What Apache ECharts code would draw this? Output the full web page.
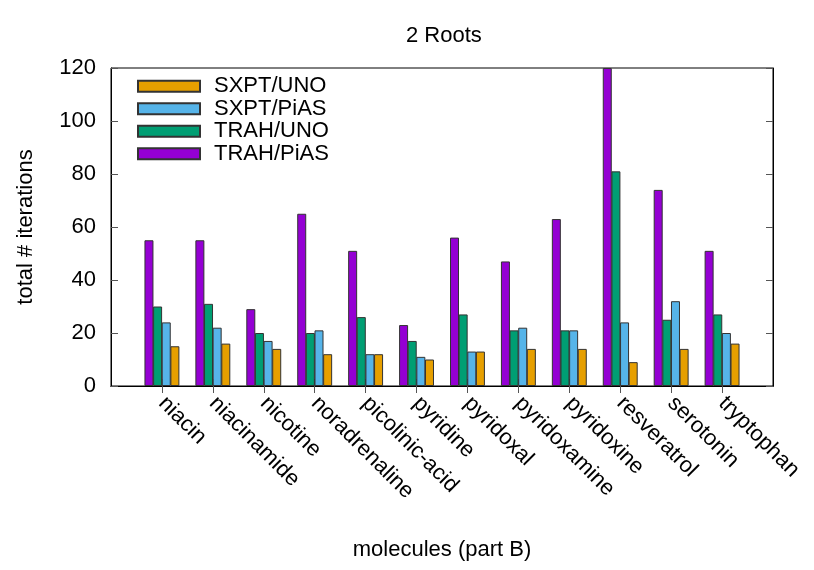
<!DOCTYPE html>
<html>
<head>
<meta charset="utf-8">
<script src="https://cdn.jsdelivr.net/npm/echarts@6/dist/echarts.min.js"></script>
<style>
  html, body { margin: 0; padding: 0; background: #fff; }
  #chart { width: 814px; height: 570px; }
</style>
</head>
<body>
<div id="chart"></div>
<script>
// molecules, padded with empty slots so the range runs from -1 to 12 like gnuplot
const molecules = ['niacin', 'niacinamide', 'nicotine', 'noradrenaline', 'picolinic-acid', 'pyridine',
  'pyridoxal', 'pyridoxamine', 'pyridoxine', 'resveratrol', 'serotonin', 'tryptophan']

const trahPias = [55, 55, 29, 65, 51, 23, 56, 47, 63, 120, 74, 51]
const trahUno = [30, 31, 20, 20, 26, 17, 27, 21, 21, 81, 25, 27]
const sxptPias = [24, 22, 17, 21, 12, 11, 13, 22, 21, 24, 32, 20]
const sxptUno = [15, 16, 14, 12, 12, 10, 13, 14, 14, 9, 14, 16]

const yTicks = [0, 20, 40, 60, 80, 100, 120]

const font = 'Liberation Sans, Arial, Helvetica, sans-serif'
const cats = [''].concat(molecules, [''])
const pad = arr => ['-'].concat(arr, ['-'])
const tickOn = i => i > 0 && i < cats.length - 1

const chart = echarts.init(document.getElementById('chart'), null, { renderer: 'canvas' })

function bar(name, color, data) {
  return {
    name: name,
    type: 'bar',
    barWidth: 9,
    barGap: '-4%',
    data: pad(data),
    itemStyle: { color: color, borderColor: '#333', borderWidth: 1 },
    animation: false
  }
}

chart.setOption({
  backgroundColor: '#fff',
  textStyle: { fontFamily: font, color: '#000' },
  title: {
    text: '2 Roots',
    left: 401,
    top: 20,
    textStyle: { fontFamily: font, fontSize: 22, fontWeight: 'normal', color: '#000' }
  },
  legend: {
    orient: 'vertical',
    left: 137,
    top: 75,
    padding: 0,
    itemGap: 0,
    itemWidth: 62,
    itemHeight: 11,
    icon: 'rect',
    data: ['SXPT/UNO', 'SXPT/PiAS', 'TRAH/UNO', 'TRAH/PiAS'],
    textStyle: { fontFamily: font, fontSize: 22, color: '#000', lineHeight: 22.5, padding: [0, 0, 0, 9] }
  },
  grid: {
    left: 111, right: 41, top: 68, bottom: 184,
    outerBoundsMode: 'none',
    containLabel: false,
    show: true, borderColor: '#000', borderWidth: 1
  },
  xAxis: [{
    type: 'category',
    data: cats,
    boundaryGap: false,
    position: 'bottom',
    name: 'molecules (part B)',
    nameLocation: 'middle',
    nameGap: 153,
    nameTextStyle: { fontFamily: font, fontSize: 22, color: '#000' },
    axisLine: { lineStyle: { color: '#000' } },
    axisTick: { inside: true, length: 7, interval: tickOn, lineStyle: { color: '#555' } },
    axisLabel: { rotate: -45, margin: 14, interval: 0, fontFamily: font, fontSize: 22, color: '#000' }
  }, {
    type: 'category',
    data: cats,
    boundaryGap: false,
    position: 'top',
    axisLine: { lineStyle: { color: '#000' } },
    axisTick: { inside: true, length: 7, interval: tickOn, lineStyle: { color: '#555' } },
    axisLabel: { show: false }
  }],
  yAxis: [{
    type: 'value',
    min: yTicks[0],
    max: yTicks[yTicks.length - 1],
    interval: 20,
    name: 'total # iterations',
    nameLocation: 'middle',
    nameGap: 74,
    nameTextStyle: { fontFamily: font, fontSize: 22, color: '#000' },
    axisLine: { show: true, lineStyle: { color: '#000' } },
    axisTick: { show: true, inside: true, length: 7, lineStyle: { color: '#555' } },
    axisLabel: { margin: 15, fontFamily: font, fontSize: 22, color: '#000' },
    splitLine: { show: false }
  }, {
    type: 'value',
    position: 'right',
    min: yTicks[0],
    max: yTicks[yTicks.length - 1],
    interval: 20,
    axisLine: { show: true, lineStyle: { color: '#000' } },
    axisTick: { show: true, inside: true, length: 7, lineStyle: { color: '#555' } },
    axisLabel: { show: false },
    splitLine: { show: false }
  }],
  series: [
    bar('TRAH/PiAS', '#9400d3', trahPias),
    bar('TRAH/UNO', '#009e73', trahUno),
    bar('SXPT/PiAS', '#56b4e9', sxptPias),
    bar('SXPT/UNO', '#e69f00', sxptUno)
  ]
})
</script>
</body>
</html>
